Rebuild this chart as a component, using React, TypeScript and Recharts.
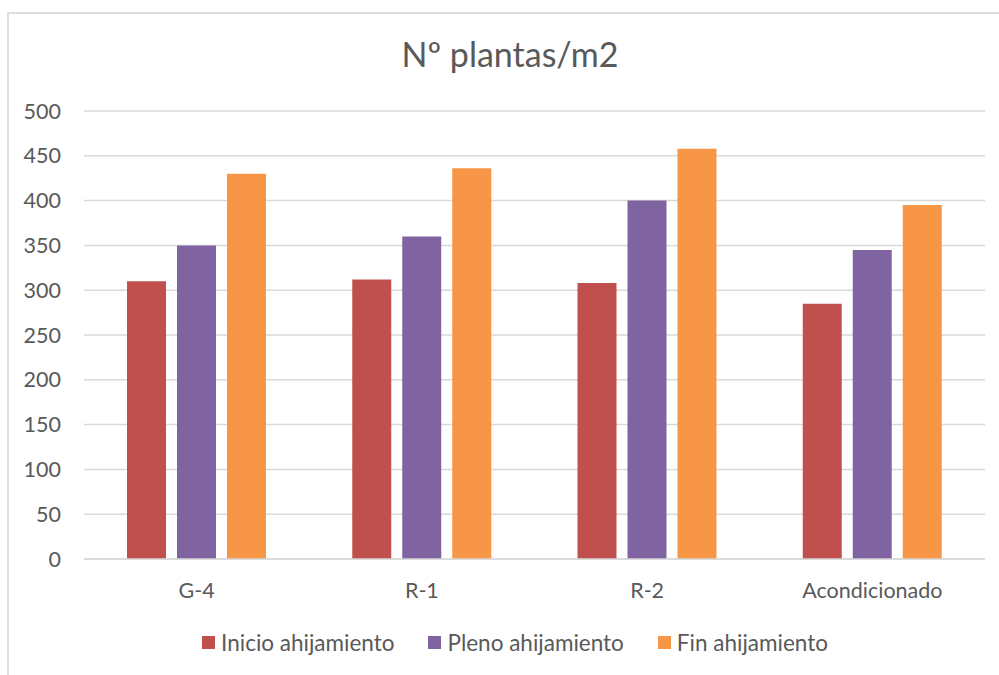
import { BarChart, Bar, XAxis, YAxis, CartesianGrid, Legend } from "recharts";

const categories = ["G-4", "R-1", "R-2", "Acondicionado"];
const inicio = [310, 312, 308, 285];
const pleno = [350, 360, 400, 345];
const fin = [430, 436, 458, 395];
const yTicks = [0, 50, 100, 150, 200, 250, 300, 350, 400, 450, 500];

const seriesInfo = [
  { key: "inicio", name: "Inicio ahijamiento", color: "#C0504D" },
  { key: "pleno", name: "Pleno ahijamiento", color: "#8064A2" },
  { key: "fin", name: "Fin ahijamiento", color: "#F79646" },
];

const data = categories.map((c, i) => ({
  name: c,
  inicio: inicio[i],
  pleno: pleno[i],
  fin: fin[i],
}));

const FONT = "Lato, 'Open Sans', sans-serif";
const TEXT = "#595959";

function LegendContent({ payload }: any) {
  // keep series order, not alphabetical
  const items = [...(payload ?? [])].sort(
    (a: any, b: any) =>
      seriesInfo.findIndex((s) => s.name === a.value) - seriesInfo.findIndex((s) => s.name === b.value)
  );
  return (
    <div style={{ display: "flex", justifyContent: "center", alignItems: "center", fontFamily: FONT, fontSize: 22.5, color: TEXT }}>
      {items.map((p: any, i: number) => (
        <div key={p.value} style={{ display: "flex", alignItems: "center", marginLeft: i === 0 ? 0 : 34 }}>
          <span style={{ display: "inline-block", width: 13, height: 13, background: p.color, marginRight: 6 }} />
          <span>{p.value}</span>
        </div>
      ))}
    </div>
  );
}

export default function App() {
  return (
    <div style={{ position: "absolute", left: 0, top: 0, width: 999, height: 675, overflow: "hidden", background: "#fff" }}>
      <div
        style={{
          position: "absolute",
          left: 7,
          top: 12,
          width: 1030,
          height: 700,
          border: "2px solid #dedede",
          boxSizing: "border-box",
        }}
      />
      <div
        style={{
          position: "absolute",
          left: 0,
          top: 37,
          width: 1020,
          textAlign: "center",
          fontFamily: FONT,
          fontSize: 34,
          lineHeight: 1,
          color: TEXT,
        }}
      >
        Nº plantas/m2
      </div>
      <div style={{ position: "absolute", left: 0, top: 0 }}>
        <BarChart
          width={999}
          height={675}
          data={data}
          margin={{ top: 111, right: 14, bottom: 86, left: 0 }}
          barSize={39}
          barGap={11}
        >
          <CartesianGrid vertical={false} stroke="#d9d9d9" strokeWidth={1.5} />
          <XAxis
            dataKey="name"
            height={30}
            interval={0}
            tickLine={false}
            axisLine={{ stroke: "#d9d9d9", strokeWidth: 1.5 }}
            tickMargin={18}
            tick={{ fill: TEXT, fontSize: 21.5, fontFamily: FONT }}
          />
          <YAxis
            width={84}
            domain={[0, 500]}
            ticks={yTicks}
            interval={0}
            tickLine={false}
            axisLine={false}
            tickMargin={17}
            tick={{ fill: TEXT, fontSize: 21.5, fontFamily: FONT }}
          />
          <Legend
            layout="horizontal"
            verticalAlign="middle"
            align="center"
            content={<LegendContent />}
            wrapperStyle={{ left: 0, top: 629, width: 1030 }}
          />
          {seriesInfo.map((s) => (
            <Bar key={s.key} dataKey={s.key} name={s.name} fill={s.color} isAnimationActive={false} />
          ))}
        </BarChart>
      </div>
    </div>
  );
}
